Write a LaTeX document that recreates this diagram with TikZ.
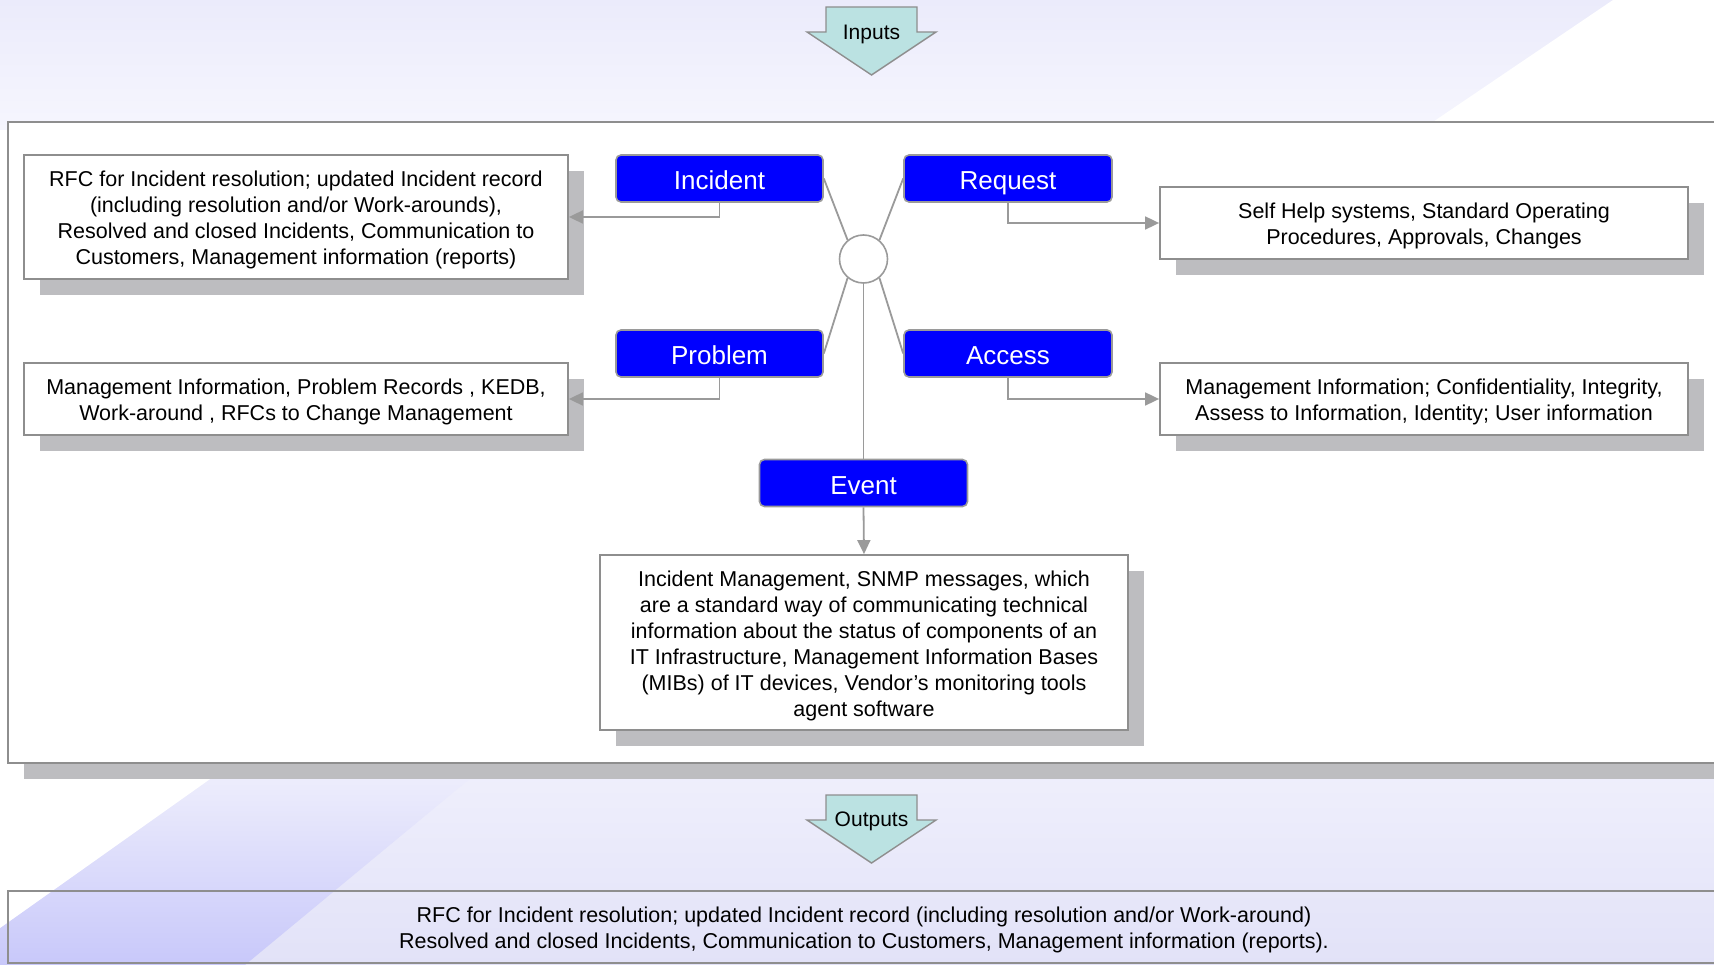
\documentclass[tikz,border=0pt]{standalone}
\usepackage{fontspec}
\setmainfont{Liberation Sans}
\usetikzlibrary{arrows.meta,shadows,positioning}

\definecolor{framegray}{HTML}{8E8E8E}
\definecolor{shadowgray}{HTML}{BDBDC0}
\definecolor{linegray}{HTML}{9A9A9A}
\definecolor{procblue}{HTML}{0000FF}
\definecolor{arrowteal}{HTML}{BBE2E2}
\definecolor{lavtop}{HTML}{EBEBFB}
\definecolor{lavmid}{HTML}{F6F6FE}
\definecolor{lavlow}{HTML}{E2E2F8}
\definecolor{bandtop}{HTML}{F0F0FC}
\definecolor{bandlow}{HTML}{C8C8FA}

% tall invisible strut for the first line of a text block, which sets the block a little lower
\newcommand{\firststrut}{\rule{0pt}{22pt}}

\tikzset{
  bodyfont/.style={font=\fontsize{21.5}{25.9}\selectfont},
  infobox/.style={draw=framegray, line width=1.8pt, fill=white, bodyfont,
    align=center, inner sep=0pt,
    general shadow={fill=shadowgray, shadow xshift=16pt, shadow yshift=-16pt}},
  procbox/.style={draw=linegray, line width=1.6pt, fill=procblue, rounded corners=5pt,
    text=white, font=\fontsize{26}{30}\selectfont, minimum width=207pt,
    minimum height=47pt, inner sep=0pt, text height=28pt, text depth=5.4pt},
  hubnode/.style={circle, draw=linegray, line width=1.6pt, fill=white,
    minimum size=48pt, inner sep=0pt},
  spoke/.style={draw=linegray, line width=1.8pt},
  feed/.style={draw=linegray, line width=1.8pt, -{Triangle[length=14pt,width=13pt]}},
  flowarrow/.style={draw=framegray, line width=1.4pt, fill=arrowteal},
  flowlabel/.style={font=\fontsize{21}{25}\selectfont, anchor=base, inner sep=0pt},
}

\begin{document}
\begin{tikzpicture}[x=1pt, y=-1pt]
\useasboundingbox (0,0) rectangle (1714,965);
\clip (0,0) rectangle (1714,965);

% backdrop: lavender wash with pale diagonal bands
\shade[top color=lavtop, bottom color=lavmid] (0,0) rectangle (1714,130);
\fill[white] (1613,0) -- (1714,0) -- (1714,130) -- (1421,130) -- cycle;
\shade[top color=bandtop, bottom color=lavlow] (0,755) rectangle (1714,965);
\shade[top color=bandtop, bottom color=bandlow]
  (234,762) -- (490,762) -- (245,965) -- (0,965) -- (0,928) -- cycle;
\fill[white] (0,755) -- (244,755) -- (0,928) -- cycle;

% main process frame
\fill[shadowgray] (24,138) rectangle (1730,779);
\draw[framegray, line width=2.5pt, fill=white] (8,122) rectangle (1730,763);

% inputs / outputs arrows
\draw[flowarrow] (826,7) -- (917,7) -- (917,32) -- (936,32) -- (871.5,75)
  -- (807,32) -- (826,32) -- cycle;
\node[flowlabel] (inputs) at (871.5,40) {Inputs};
\draw[flowarrow] (826,795) -- (917,795) -- (917,820) -- (936,820) -- (871.5,863)
  -- (807,820) -- (826,820) -- cycle;
\node[flowlabel] (outputs) at (871.5,826) {Outputs};

% hub and the five processes
\node[hubnode] (hub) at (863.5,259) {};
\node[procbox] (incident) at (719.5,178.5) {Incident};
\node[procbox, minimum width=208pt] (request) at (1008,178.5) {Request};
\node[procbox] (problem) at (719.5,353.5) {Problem};
\node[procbox, minimum width=208pt] (access) at (1008,353.5) {Access};
\node[procbox, minimum width=208pt] (event) at (863.5,483) {Event};

\draw[spoke] (incident.east) -- (hub.130);
\draw[spoke] (request.west) -- (hub.50);
\draw[spoke] (problem.east) -- (hub.230);
\draw[spoke] (access.west) -- (hub.310);
\draw[spoke] (hub.south) -- (event.north);

% information produced by each process
\node[infobox, minimum width=544pt, minimum height=124pt] (incout) at (296,217)
  {\firststrut RFC for Incident resolution; updated Incident record\\
   (including resolution and/or Work-arounds),\\
   Resolved and closed Incidents, Communication to\\
   Customers, Management information (reports)};
\node[infobox, minimum width=544pt, minimum height=72pt] (probout) at (296,399)
  {\firststrut Management Information, Problem Records , KEDB,\\
   Work-around , RFCs to Change Management};
\node[infobox, minimum width=528pt, minimum height=72pt] (reqout) at (1424,223)
  {\firststrut Self Help systems, Standard Operating\\
   Procedures, Approvals, Changes};
\node[infobox, minimum width=528pt, minimum height=72pt] (accout) at (1424,399)
  {\firststrut Management Information; Confidentiality, Integrity,\\
   Assess to Information, Identity; User information};
\node[infobox, minimum width=528pt, minimum height=175pt] (evout) at (864,642.5)
  {\firststrut Incident Management, SNMP messages, which\\
   are a standard way of communicating technical\\
   information about the status of components of an\\
   IT Infrastructure, Management Information Bases\\
   (MIBs) of IT devices, Vendor’s monitoring tools\\
   agent software};

\draw[feed] (incident.south) |- (incout.east);
\draw[feed] (problem.south) |- (probout.east);
\draw[feed] (request.south) |- (reqout.west);
\draw[feed] (access.south) |- (accout.west);
\draw[feed] (event.south) -- (evout.north);

% overall outputs strip
\draw[framegray, line width=2.5pt] (8,891) rectangle (1730,963);
\node[bodyfont, align=center, inner sep=0pt] (summary) at (864,927)
  {\firststrut RFC for Incident resolution; updated Incident record (including resolution and/or Work-around)\\
   Resolved and closed Incidents, Communication to Customers, Management information (reports).};
\end{tikzpicture}
\end{document}
